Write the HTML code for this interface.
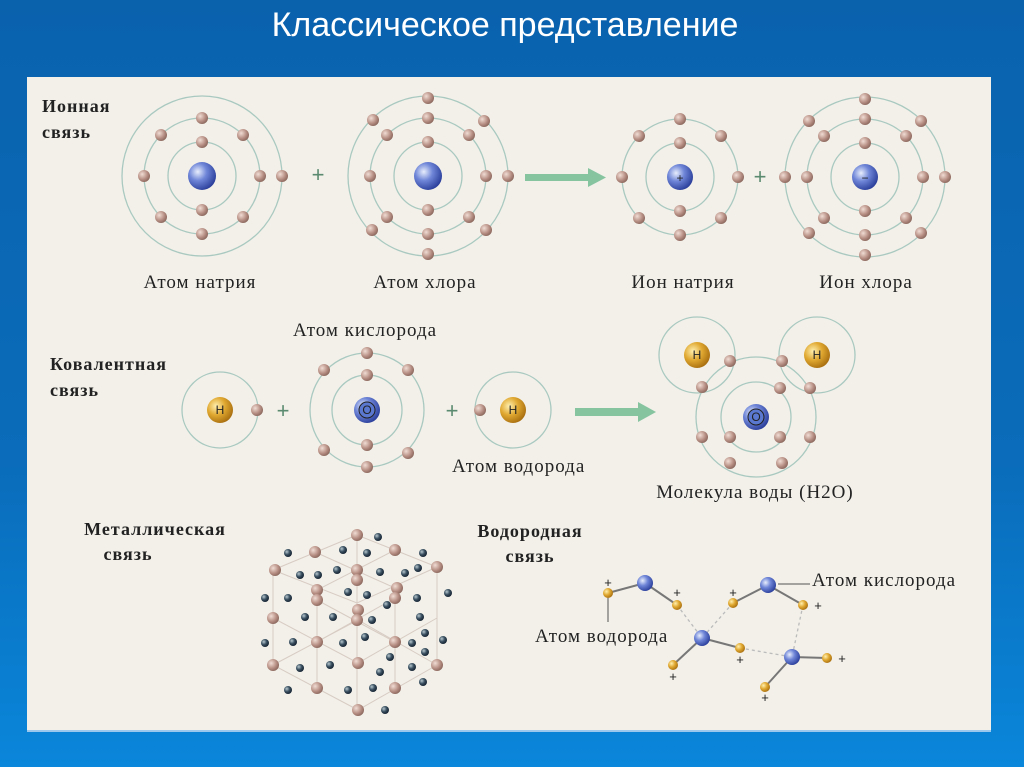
<!DOCTYPE html>
<html><head><meta charset="utf-8"><style>
html,body{margin:0;padding:0}
body{width:1024px;height:767px;overflow:hidden;background:linear-gradient(#0a62ad 0%,#0a6cba 60%,#0a86da 100%);position:relative;font-family:"Liberation Sans",sans-serif}
#t{position:absolute;left:0;width:1010px;top:6px;text-align:center;color:#fff;font-size:34px}
#p{position:absolute;left:27px;top:77px;width:964px;height:653px;background:#f2f0e9;border-bottom:2px solid #9cc8ee}
svg{position:absolute;left:0;top:0}
.s{font-family:"Liberation Serif",serif;font-size:19px;letter-spacing:1px;fill:#222}
.b{font-family:"Liberation Serif",serif;font-size:18px;letter-spacing:1px;font-weight:bold;fill:#222}
.o{fill:none;stroke:#a9c9c0;stroke-width:1.3}
.n{font-family:"Liberation Sans",sans-serif;font-size:12px;fill:#222;text-anchor:middle}
</style></head><body>
<div id="t">Классическое представление</div>
<div id="p"></div>
<svg width="1024" height="767" viewBox="0 0 1024 767">
<defs>
<radialGradient id="e" cx="35%" cy="35%" r="70%"><stop offset="0" stop-color="#f0dcd4"/><stop offset="0.6" stop-color="#b89085"/><stop offset="1" stop-color="#8a665c"/></radialGradient>
<radialGradient id="nu" cx="35%" cy="35%" r="70%"><stop offset="0" stop-color="#e8eefc"/><stop offset="0.45" stop-color="#6f86d8"/><stop offset="1" stop-color="#2a3e9a"/></radialGradient>
<radialGradient id="hy" cx="35%" cy="35%" r="70%"><stop offset="0" stop-color="#fff0b0"/><stop offset="0.5" stop-color="#e0a830"/><stop offset="1" stop-color="#a86e10"/></radialGradient>
<radialGradient id="dk" cx="35%" cy="35%" r="70%"><stop offset="0" stop-color="#b8c8d0"/><stop offset="0.5" stop-color="#3a5060"/><stop offset="1" stop-color="#142030"/></radialGradient>
<circle id="el" r="6" fill="url(#e)"/>
<g id="m8"><use href="#el" x="0" y="-58"/><use href="#el" x="41" y="-41"/><use href="#el" x="58" y="0"/><use href="#el" x="41" y="41"/><use href="#el" x="0" y="58"/><use href="#el" x="-41" y="41"/><use href="#el" x="-58" y="0"/><use href="#el" x="-41" y="-41"/></g>
<g id="i2"><use href="#el" x="0" y="-34"/><use href="#el" x="0" y="34"/></g>
</defs>
<!-- Ionic -->
<text class="b" x="42" y="112">Ионная</text><text class="b" x="42" y="138">связь</text>
<g transform="translate(202,176)"><circle class="o" r="34"/><circle class="o" r="58"/><circle class="o" r="80"/><use href="#i2"/><use href="#m8"/><use href="#el" x="80" y="0"/><circle r="14" fill="url(#nu)"/></g>
<text x="318" y="182" font-size="22" fill="#5a8a70" text-anchor="middle" font-family="Liberation Sans">+</text>
<g transform="translate(428,176)"><circle class="o" r="34"/><circle class="o" r="58"/><circle class="o" r="80"/><use href="#i2"/><use href="#m8"/>
<use href="#el" x="0" y="-78"/><use href="#el" x="56" y="-55"/><use href="#el" x="80" y="0"/><use href="#el" x="58" y="54"/><use href="#el" x="0" y="78"/><use href="#el" x="-56" y="54"/><use href="#el" x="-55" y="-56"/>
<circle r="14" fill="url(#nu)"/></g>
<rect x="525" y="174" width="65" height="7" fill="#86c4a0"/><polygon points="588,168 606,177.5 588,187" fill="#86c4a0"/>
<g transform="translate(680,177)"><circle class="o" r="34"/><circle class="o" r="58"/><use href="#i2"/><use href="#m8"/><circle r="13" fill="url(#nu)"/><text class="n" y="5" font-size="14">+</text></g>
<text x="760" y="184" font-size="22" fill="#5a8a70" text-anchor="middle" font-family="Liberation Sans">+</text>
<g transform="translate(865,177)"><circle class="o" r="34"/><circle class="o" r="58"/><circle class="o" r="80"/><use href="#i2"/><use href="#m8"/>
<use href="#el" x="0" y="-78"/><use href="#el" x="56" y="-56"/><use href="#el" x="80" y="0"/><use href="#el" x="56" y="56"/><use href="#el" x="0" y="78"/><use href="#el" x="-56" y="56"/><use href="#el" x="-80" y="0"/><use href="#el" x="-56" y="-56"/>
<circle r="13" fill="url(#nu)"/><text class="n" y="5" font-size="15">−</text></g>
<text class="s" x="200" y="288" text-anchor="middle">Атом натрия</text>
<text class="s" x="425" y="288" text-anchor="middle">Атом хлора</text>
<text class="s" x="683" y="288" text-anchor="middle">Ион натрия</text>
<text class="s" x="866" y="288" text-anchor="middle">Ион хлора</text>
<!-- Covalent -->
<text class="b" x="50" y="370">Ковалентная</text><text class="b" x="50" y="396">связь</text>
<text class="s" x="365" y="336" text-anchor="middle">Атом кислорода</text>
<g transform="translate(220,410)"><circle class="o" r="38"/><use href="#el" x="37" y="0"/><circle r="13" fill="url(#hy)"/><text class="n" y="4">H</text></g>
<text x="283" y="418" font-size="22" fill="#5a8a70" text-anchor="middle" font-family="Liberation Sans">+</text>
<g transform="translate(367,410)"><circle class="o" r="35"/><circle class="o" r="57"/><use href="#el" x="0" y="-35"/><use href="#el" x="0" y="35"/>
<use href="#el" x="0" y="-57"/><use href="#el" x="-43" y="-40"/><use href="#el" x="41" y="-40"/><use href="#el" x="-43" y="40"/><use href="#el" x="41" y="43"/><use href="#el" x="0" y="57"/>
<circle r="13" fill="url(#nu)"/><circle r="8" fill="#5a78d0" stroke="#222" stroke-width="1"/><text class="n" y="4">O</text></g>
<text x="452" y="418" font-size="22" fill="#5a8a70" text-anchor="middle" font-family="Liberation Sans">+</text>
<g transform="translate(513,410)"><circle class="o" r="38"/><use href="#el" x="-33" y="0"/><circle r="13" fill="url(#hy)"/><text class="n" y="4">H</text></g>
<text class="s" x="452" y="472">Атом водорода</text>
<rect x="575" y="408" width="65" height="8" fill="#86c4a0"/><polygon points="638,402 656,412 638,422" fill="#86c4a0"/>
<!-- Water -->
<g><circle class="o" cx="697" cy="355" r="38"/><circle class="o" cx="817" cy="355" r="38"/>
<circle class="o" cx="756" cy="417" r="60"/><circle class="o" cx="756" cy="417" r="35"/>
<use href="#el" x="730" y="361"/><use href="#el" x="782" y="361"/><use href="#el" x="702" y="387"/><use href="#el" x="810" y="388"/>
<use href="#el" x="780" y="388"/><use href="#el" x="730" y="437"/><use href="#el" x="780" y="437"/>
<use href="#el" x="702" y="437"/><use href="#el" x="810" y="437"/><use href="#el" x="730" y="463"/><use href="#el" x="782" y="463"/>
<circle cx="697" cy="355" r="13" fill="url(#hy)"/><text class="n" x="697" y="359">H</text>
<circle cx="817" cy="355" r="13" fill="url(#hy)"/><text class="n" x="817" y="359">H</text>
<circle cx="756" cy="417" r="13" fill="url(#nu)"/><circle cx="756" cy="417" r="8" fill="#5a78d0" stroke="#222"/><text class="n" x="756" y="421">O</text></g>
<text class="s" x="755" y="498" text-anchor="middle">Молекула воды (H2O)</text>
<!-- Metallic -->
<text class="b" x="155" y="535" text-anchor="middle">Металлическая</text><text class="b" x="128" y="560" text-anchor="middle">связь</text>
<g stroke="#d8ccc4" stroke-width="1" fill="none">
<polyline points="357,535 437,567 437,665 358,710 273,665 273,570 357,535"/>
<polyline points="315,552 395,588 395,688"/><polyline points="395,550 317,590 317,688"/>
<polyline points="273,570 357,603 437,567"/><line x1="357" y1="535" x2="357" y2="710"/>
<polyline points="273,618 358,663 437,618"/><polyline points="273,665 358,620 437,665"/>
<polyline points="317,642 395,598"/><polyline points="317,600 395,642"/>
</g>
<g fill="url(#e)">
<circle cx="357" cy="535" r="6"/><circle cx="315" cy="552" r="6"/><circle cx="395" cy="550" r="6"/><circle cx="275" cy="570" r="6"/><circle cx="357" cy="570" r="6"/><circle cx="437" cy="567" r="6"/><circle cx="357" cy="580" r="6"/><circle cx="317" cy="590" r="6"/><circle cx="317" cy="600" r="6"/><circle cx="397" cy="588" r="6"/><circle cx="395" cy="598" r="6"/><circle cx="358" cy="610" r="6"/><circle cx="357" cy="620" r="6"/><circle cx="273" cy="618" r="6"/><circle cx="317" cy="642" r="6"/><circle cx="395" cy="642" r="6"/><circle cx="273" cy="665" r="6"/><circle cx="358" cy="663" r="6"/><circle cx="437" cy="665" r="6"/><circle cx="317" cy="688" r="6"/><circle cx="395" cy="688" r="6"/><circle cx="358" cy="710" r="6"/>
</g>
<g fill="url(#dk)">
<circle cx="378" cy="537" r="4"/><circle cx="288" cy="553" r="4"/><circle cx="343" cy="550" r="4"/><circle cx="367" cy="553" r="4"/><circle cx="423" cy="553" r="4"/><circle cx="300" cy="575" r="4"/><circle cx="318" cy="575" r="4"/><circle cx="337" cy="570" r="4"/><circle cx="380" cy="572" r="4"/><circle cx="405" cy="573" r="4"/><circle cx="418" cy="568" r="4"/><circle cx="265" cy="598" r="4"/><circle cx="288" cy="598" r="4"/><circle cx="348" cy="592" r="4"/><circle cx="367" cy="595" r="4"/><circle cx="387" cy="605" r="4"/><circle cx="417" cy="598" r="4"/><circle cx="448" cy="593" r="4"/><circle cx="305" cy="617" r="4"/><circle cx="333" cy="617" r="4"/><circle cx="372" cy="620" r="4"/><circle cx="420" cy="617" r="4"/><circle cx="265" cy="643" r="4"/><circle cx="293" cy="642" r="4"/><circle cx="343" cy="643" r="4"/><circle cx="365" cy="637" r="4"/><circle cx="412" cy="643" r="4"/><circle cx="425" cy="633" r="4"/><circle cx="443" cy="640" r="4"/><circle cx="390" cy="657" r="4"/><circle cx="300" cy="668" r="4"/><circle cx="330" cy="665" r="4"/><circle cx="380" cy="672" r="4"/><circle cx="412" cy="667" r="4"/><circle cx="425" cy="652" r="4"/><circle cx="288" cy="690" r="4"/><circle cx="348" cy="690" r="4"/><circle cx="373" cy="688" r="4"/><circle cx="423" cy="682" r="4"/><circle cx="385" cy="710" r="4"/>
</g>
<!-- Hydrogen bond -->
<text class="b" x="530" y="537" text-anchor="middle">Водородная</text><text class="b" x="530" y="562" text-anchor="middle">связь</text>
<g stroke="#777" stroke-width="2"><polyline points="608,593 645,583 677,605" fill="none"/><polyline points="733,603 768,585 803,605" fill="none"/><line x1="702" y1="638" x2="740" y2="648"/><line x1="702" y1="638" x2="673" y2="665"/><line x1="792" y1="657" x2="827" y2="658"/><line x1="792" y1="657" x2="765" y2="687"/></g>
<g stroke="#bbb" stroke-width="1.3" stroke-dasharray="3,3"><line x1="677" y1="605" x2="702" y2="638"/><line x1="733" y1="603" x2="702" y2="638"/><line x1="740" y1="648" x2="792" y2="657"/><line x1="803" y1="605" x2="792" y2="657"/></g>
<g stroke="#555" stroke-width="1"><line x1="778" y1="584" x2="810" y2="584"/><line x1="608" y1="598" x2="608" y2="622"/></g>
<g fill="url(#nu)"><circle cx="645" cy="583" r="8"/><circle cx="768" cy="585" r="8"/><circle cx="702" cy="638" r="8"/><circle cx="792" cy="657" r="8"/></g>
<g fill="url(#hy)"><circle cx="608" cy="593" r="5"/><circle cx="677" cy="605" r="5"/><circle cx="733" cy="603" r="5"/><circle cx="803" cy="605" r="5"/><circle cx="740" cy="648" r="5"/><circle cx="673" cy="665" r="5"/><circle cx="827" cy="658" r="5"/><circle cx="765" cy="687" r="5"/></g>
<g font-family="Liberation Sans" font-size="13" fill="#222" text-anchor="middle"><text x="608" y="587">+</text><text x="677" y="597">+</text><text x="733" y="597">+</text><text x="818" y="610">+</text><text x="740" y="664">+</text><text x="673" y="681">+</text><text x="842" y="663">+</text><text x="765" y="702">+</text></g>
<text class="s" x="812" y="586">Атом кислорода</text>
<text class="s" x="535" y="642">Атом водорода</text>
</svg>
</body></html>
